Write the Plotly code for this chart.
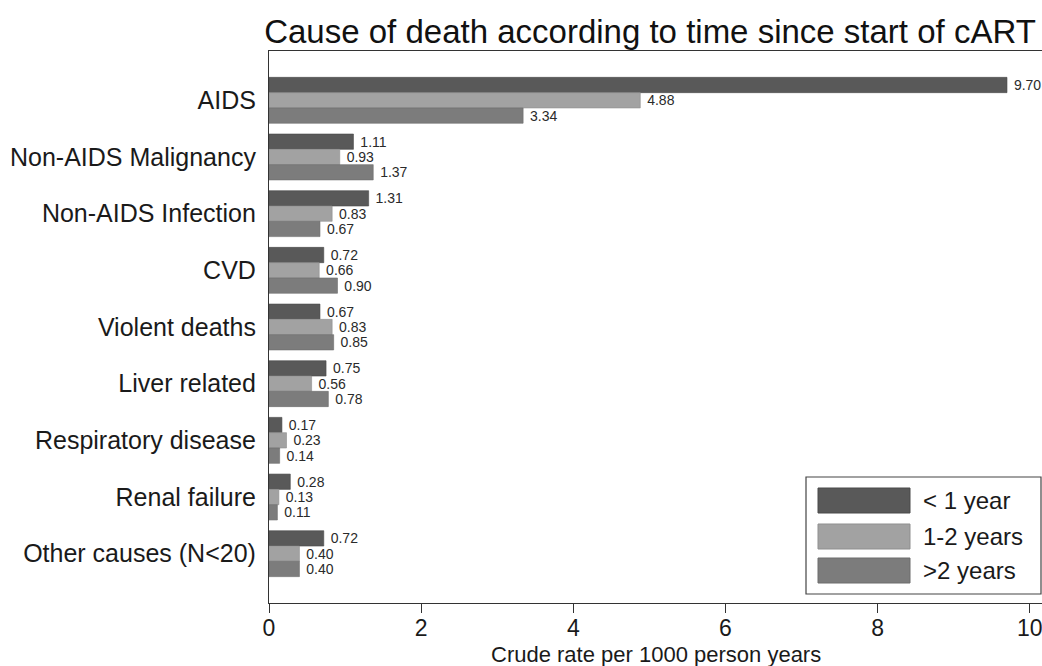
import plotly.graph_objects as go

categories = ["AIDS", "Non-AIDS Malignancy", "Non-AIDS Infection", "CVD",
              "Violent deaths", "Liver related", "Respiratory disease",
              "Renal failure", "Other causes (N<20)"]
series_names = ["< 1 year", "1-2 years", ">2 years"]
lt1_year = [9.70, 1.11, 1.31, 0.72, 0.67, 0.75, 0.17, 0.28, 0.72]
y1_2_years = [4.88, 0.93, 0.83, 0.66, 0.83, 0.56, 0.23, 0.13, 0.40]
gt2_years = [3.34, 1.37, 0.67, 0.90, 0.85, 0.78, 0.14, 0.11, 0.40]
x_ticks = [0, 2, 4, 6, 8, 10]

colors = ["#595959", "#a2a2a2", "#7c7c7c"]
edge = ["#4a4a4a", "#8f8f8f", "#6c6c6c"]
FONT = "Liberation Sans, Arial, sans-serif"

W, H = 1042, 666
L, R, T, B = 269, 1042, 51, 603

fig = go.Figure()
for name, vals, c, e in zip(series_names, [lt1_year, y1_2_years, gt2_years], colors, edge):
    fig.add_trace(go.Bar(
        y=categories, x=vals, name=name, orientation="h",
        marker=dict(color=c, line=dict(color=e, width=0.6)),
        text=[f" {v:.2f}" for v in vals], textposition="outside",
        constraintext="none",
        textfont=dict(family=FONT, size=14, color="#2a2a2a"),
        cliponaxis=False, showlegend=False,
    ))

def px_x(p):
    return (p - L) / (R - L)

def px_y(p):
    return (B - p) / (B - T)

shapes = [dict(type="rect", xref="paper", yref="paper",
               x0=px_x(806), x1=px_x(1041), y0=px_y(594), y1=px_y(477),
               line=dict(color="#444444", width=1.2), fillcolor="white", layer="above")]
annotations = []
rows = [(488, 513), (524, 549), (558, 583)]
for (top, bot), c, e, name in zip(rows, colors, edge, series_names):
    shapes.append(dict(type="rect", xref="paper", yref="paper",
                       x0=px_x(818), x1=px_x(910), y0=px_y(bot), y1=px_y(top),
                       line=dict(color=e, width=1), fillcolor=c, layer="above"))
    annotations.append(dict(xref="paper", yref="paper", x=px_x(921), y=px_y((top + bot) / 2),
                            text=name, showarrow=False, xanchor="left", yanchor="middle",
                            font=dict(family=FONT, size=24, color="#1a1a1a")))

annotations.append(dict(xref="paper", yref="paper", x=px_x(656), y=px_y(654),
                        text="Crude rate per 1000 person years", showarrow=False,
                        xanchor="center", yanchor="middle",
                        font=dict(family=FONT, size=22, color="#1a1a1a")))

fig.update_layout(
    width=W, height=H,
    margin=dict(l=L, r=W - R, t=T, b=H - B, autoexpand=False),
    paper_bgcolor="white", plot_bgcolor="white",
    barmode="group", bargap=0.19, bargroupgap=0,
    title=dict(text="Cause of death according to time since start of cART",
               x=650 / W, xanchor="center", y=1 - 31 / H, yanchor="middle",
               xref="container", yref="container",
               font=dict(family=FONT, size=33, color="#111111")),
    xaxis=dict(range=[0, 10.16], tickvals=x_ticks, ticks="outside", ticklen=9,
               tickcolor="#333333", showline=True, linecolor="#333333", linewidth=1.2,
               mirror=True, showgrid=False, zeroline=False, automargin=False,
               ticklabelstandoff=-5, ticklabeloverflow="allow",
               tickfont=dict(family=FONT, size=23, color="#1a1a1a")),
    yaxis=dict(categoryorder="array", categoryarray=categories,
               range=[8.87, -0.87], ticks="", showline=True, linecolor="#333333",
               linewidth=1.2, showgrid=False, zeroline=False, ticklabelstandoff=7,
               automargin=False,
               tickfont=dict(family=FONT, size=25, color="#1a1a1a")),
    shapes=shapes, annotations=annotations,
)

fig.write_html("out.html", config={"displayModeBar": False},
               post_script="document.body.style.margin='0';document.body.style.overflow='hidden';")
